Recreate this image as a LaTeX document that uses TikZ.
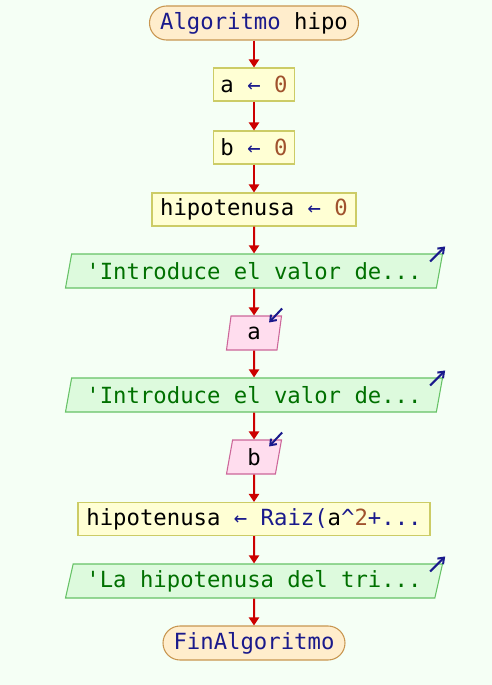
\documentclass[tikz,border=0pt]{standalone}
\usepackage{fontspec}
\setmonofont{DejaVu Sans Mono}
\usetikzlibrary{shapes.geometric,arrows.meta}
\definecolor{bgmint}{HTML}{F5FFF5}
\definecolor{kwblue}{HTML}{1A1A8C}
\definecolor{litbrown}{HTML}{A0522D}
\definecolor{strgreen}{HTML}{007000}
\definecolor{flowred}{HTML}{CC0000}
\definecolor{termfill}{HTML}{FFEDCC}
\definecolor{termline}{HTML}{C89650}
\definecolor{asgfill}{HTML}{FFFFD4}
\definecolor{asgline}{HTML}{CCCC66}
\definecolor{outfill}{HTML}{DDFADD}
\definecolor{outline}{HTML}{66C266}
\definecolor{infill}{HTML}{FFDDEE}
\definecolor{inline}{HTML}{CC6699}
\newcommand{\kw}[1]{\textcolor{kwblue}{#1}}
\newcommand{\lit}[1]{\textcolor{litbrown}{#1}}
\newcommand{\asg}{\kw{←}}

\begin{document}
\begin{tikzpicture}[x=0.75pt,y=-0.75pt,
    every node/.style={font=\ttfamily\fontsize{16.7}{20}\selectfont,inner sep=0pt},
    terminal/.style={draw=termline,fill=termfill,line width=0.8pt,
        rounded corners=12.75pt,minimum height=25.5pt},
    assign/.style={draw=asgline,fill=asgfill,line width=0.8pt,minimum height=24.75pt},
    outbox/.style={trapezium,trapezium left angle=70.5,trapezium right angle=109.5,
        trapezium stretches body,draw=outline,fill=outfill,line width=0.8pt,
        minimum width=282.75pt,minimum height=25.5pt,text=strgreen},
    inbox/.style={trapezium,trapezium left angle=70.5,trapezium right angle=109.5,
        trapezium stretches body,draw=inline,fill=infill,line width=0.8pt,
        minimum width=41.25pt,minimum height=25.5pt},
    flow/.style={flowred,line width=1.5pt,-{Triangle[width=7.5pt,length=6pt]}},
    io/.style={kwblue,line width=1.5pt,-{Straight Barb[length=4pt,width=6pt]}}]
    \fill[bgmint] (0,0) rectangle (492,685);
    \useasboundingbox (0,0) rectangle (492,685);
    % nodes
    \node[terminal,minimum width=156.75pt] (start) at (254,23) {\kw{Algoritmo} hipo};
    \node[assign,minimum width=60.75pt] (seta) at (254,84.5) {a \asg{} \lit{0}};
    \node[assign,minimum width=60.75pt] (setb) at (254,147.5) {b \asg{} \lit{0}};
    \node[assign,minimum width=153pt] (seth) at (254,209.5) {hipotenusa \asg{} \lit{0}};
    \node[outbox] (outa) at (254,271) {'Introduce el valor de...};
    \node[inbox] (ina) at (254,333) {a};
    \node[outbox] (outb) at (254,395) {'Introduce el valor de...};
    \node[inbox] (inb) at (254,457) {b};
    \node[assign,minimum width=264pt] (calc) at (254,519)
        {hipotenusa \asg{} \kw{Raiz(}a\kw{\^{}}\lit{2}\kw{+...}};
    \node[outbox] (outh) at (254,581) {'La hipotenusa del tri...};
    \node[terminal,minimum width=136.5pt] (stop) at (254,643) {\kw{FinAlgoritmo}};
    % flow
    \draw[flow] (start) -- (seta);
    \draw[flow] (seta) -- (setb);
    \draw[flow] (setb) -- (seth);
    \draw[flow] (seth) -- (outa);
    \draw[flow] (outa) -- (ina);
    \draw[flow] (ina) -- (outb);
    \draw[flow] (outb) -- (inb);
    \draw[flow] (inb) -- (calc);
    \draw[flow] (calc) -- (outh);
    \draw[flow] (outh) -- (stop);
    % io marks
    \foreach \o in {outa,outb,outh}
        \draw[io] ([shift={(-13,8)}]\o.top right corner) -- ++(15,-15);
    \foreach \i in {ina,inb}
        \draw[io] ([shift={(0,-7)}]\i.top right corner) -- ++(-13,14);
\end{tikzpicture}
\end{document}
